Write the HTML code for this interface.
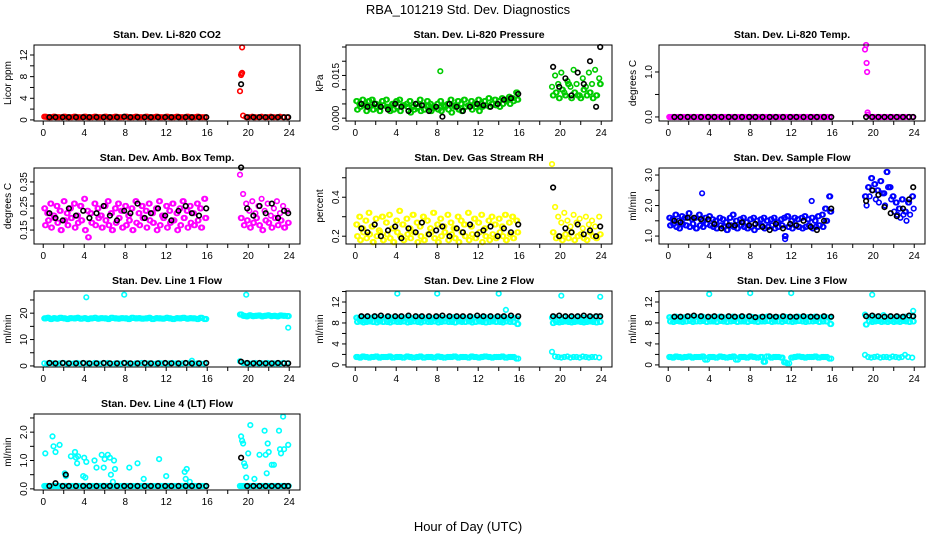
<!DOCTYPE html>
<html><head><meta charset="utf-8"><style>
html,body{margin:0;padding:0;background:#fff}
svg{display:block;font-family:"Liberation Sans",sans-serif}
</style></head><body>
<svg id="c" width="936" height="540" viewBox="0 0 936 540">
<text x="468" y="14" font-size="13" text-anchor="middle">RBA_101219  Std. Dev. Diagnostics</text>
<text x="468" y="531" font-size="13" text-anchor="middle">Hour of Day (UTC)</text>
</svg>
<script>
const H1=[0.1,0.4,0.7,1.0,1.3,1.6,2.0,2.3,2.6,3.0,3.3,3.6,4.0,4.3,4.6,5.0,5.3,5.6,6.0,6.3,6.6,7.0,7.3,7.6,8.0,8.3,8.6,9.0,9.3,9.6,10.0,10.3,10.6,11.0,11.3,11.6,12.0,12.3,12.6,13.0,13.3,13.6,14.0,14.3,14.6,15.0,15.3,15.7];
const H1b=[0.25,0.55,0.85,1.15,1.45,1.8,2.15,2.45,2.8,3.15,3.45,3.8,4.15,4.45,4.8,5.15,5.45,5.8,6.15,6.45,6.8,7.15,7.45,7.8,8.15,8.45,8.8,9.15,9.45,9.8,10.15,10.45,10.8,11.15,11.45,11.8,12.15,12.45,12.8,13.15,13.45,13.8,14.15,14.45,14.8,15.15,15.5,15.9];
const H1c=[0.18,0.48,0.78,1.08,1.38,1.7,2.08,2.38,2.7,3.08,3.38,3.7,4.08,4.38,4.7,5.08,5.38,5.7,6.08,6.38,6.7,7.08,7.38,7.7,8.08,8.38,8.7,9.08,9.38,9.7,10.08,10.38,10.7,11.08,11.38,11.7,12.08,12.38,12.7,13.08,13.38,13.7,14.08,14.38,14.7,15.08,15.4,15.8];
const H2=[19.2,19.5,19.8,20.1,20.4,20.7,21.0,21.3,21.6,21.9,22.2,22.5,22.8,23.1,23.4,23.8];
const H2b=[19.35,19.65,19.95,20.25,20.55,20.85,21.15,21.45,21.75,22.05,22.35,22.65,22.95,23.25,23.6,23.95];
const H2c=[19.28,19.58,19.88,20.18,20.48,20.78,21.08,21.38,21.68,21.98,22.28,22.58,22.88,23.18,23.5,23.88];
const HB1=[0.6,1.2,1.9,2.5,3.2,3.9,4.5,5.2,5.9,6.5,7.2,7.9,8.5,9.2,9.9,10.5,11.2,11.9,12.5,13.2,13.9,14.5,15.2,15.9];
const HB2=[19.3,19.9,20.5,21.1,21.7,22.3,22.9,23.5,23.9];
const xTicks=[0,2,4,6,8,10,12,14,16,18,20,22,24];
const xLabels=["0","","4","","8","","12","","16","","20","","24"];

// panel 1 CO2
const co2Red1=[0.6,0.5,0.5,0.6,0.5,0.5,0.6,0.5,0.5,0.6,0.5,0.5,0.6,0.5,0.5,0.6,0.5,0.5,0.6,0.5,0.5,0.6,0.5,0.5,0.6,0.5,0.5,0.6,0.5,0.5,0.6,0.5,0.5,0.6,0.5,0.5,0.6,0.5,0.5,0.6,0.5,0.5,0.6,0.5,0.5,0.6,0.5,0.5];
const co2Red2=[5.3,0.8,0.5,0.5,0.6,0.5,0.5,0.6,0.5,0.5,0.6,0.5,0.5,0.6,0.5,0.5];
const co2SpikeX=[19.3,19.35,19.4,19.4];
const co2SpikeY=[8.3,8.6,8.7,13.4];
const co2Blk1=[0.5,0.5,0.5,0.5,0.5,0.5,0.5,0.5,0.5,0.5,0.5,0.6,0.5,0.5,0.5,0.5,0.5,0.5,0.5,0.5,0.5,0.5,0.5,0.5];
const co2Blk2=[6.6,0.5,0.5,0.5,0.5,0.5,0.5,0.5,0.5];
// panel 2 pressure
const prGrn1=[0.006,0.005,0.0065,0.0045,0.006,0.0065,0.005,0.0045,0.006,0.0065,0.004,0.005,0.006,0.0065,0.0045,0.005,0.006,0.004,0.005,0.0065,0.0045,0.006,0.005,0.0035,0.005,0.006,0.0045,0.005,0.0065,0.0045,0.006,0.005,0.0065,0.0045,0.006,0.005,0.0065,0.005,0.006,0.007,0.005,0.0065,0.006,0.007,0.0065,0.0075,0.007,0.009];
const prGrn1b=[0.003,0.004,0.0045,0.0025,0.004,0.003,0.004,0.0025,0.0045,0.004,0.0025,0.003,0.004,0.0025,0.0045,0.004,0.002,0.003,0.004,0.0025,0.003,0.0045,0.0025,0.004,0.003,0.0025,0.004,0.003,0.002,0.004,0.003,0.0025,0.004,0.0045,0.003,0.004,0.0025,0.004,0.0045,0.004,0.005,0.0045,0.004,0.005,0.006,0.005,0.006,0.0065];
const prGrn2=[0.011,0.015,0.012,0.016,0.009,0.013,0.011,0.017,0.012,0.008,0.014,0.011,0.016,0.012,0.017,0.014];
const prGrn2b=[0.008,0.009,0.007,0.010,0.008,0.012,0.007,0.009,0.008,0.007,0.010,0.008,0.009,0.007,0.008,0.012];
const prBlk1=[0.005,0.004,0.005,0.004,0.003,0.005,0.004,0.0025,0.005,0.0045,0.0025,0.004,0.0005,0.005,0.004,0.0025,0.004,0.005,0.0045,0.004,0.005,0.0065,0.007,0.0085];
const prBlk2=[0.018,0.011,0.014,0.008,0.016,0.012,0.020,0.004,0.025];
// panel 3 temp
const tpMag1=[0,0,0,0,0,0,0,0,0,0,0,0,0,0,0,0,0,0,0,0,0,0,0,0,0,0,0,0,0,0,0,0,0,0,0,0,0,0,0,0,0,0,0,0,0,0,0,0];
const tpMag2=[1.5,0.05,0,0,0,0,0,0,0,0,0,0,0,0,0,0];
const tpSpikeX=[19.3,19.35,19.4,19.45];
const tpSpikeY=[1.6,1.2,1.0,0.1];
const tpBlk1=[0,0,0,0,0,0,0,0,0,0,0,0,0,0,0,0,0,0,0,0,0,0,0,0];
const tpBlk2=[0,0,0,0,0,0,0,0,0];
// panel 4 amb box
const abMag1=[0.24,0.22,0.26,0.21,0.25,0.23,0.27,0.22,0.24,0.26,0.21,0.25,0.28,0.23,0.22,0.26,0.24,0.21,0.25,0.27,0.22,0.24,0.26,0.23,0.25,0.21,0.24,0.27,0.22,0.25,0.23,0.26,0.22,0.24,0.27,0.21,0.25,0.23,0.26,0.22,0.24,0.27,0.23,0.25,0.22,0.26,0.24,0.28];
const abMag1b=[0.17,0.19,0.16,0.2,0.18,0.15,0.19,0.17,0.2,0.16,0.18,0.19,0.15,0.12,0.18,0.17,0.2,0.16,0.19,0.17,0.15,0.18,0.2,0.16,0.17,0.19,0.15,0.18,0.17,0.2,0.16,0.19,0.18,0.15,0.17,0.2,0.16,0.18,0.19,0.15,0.17,0.2,0.16,0.18,0.17,0.19,0.16,0.2];
const abMag2=[0.38,0.3,0.26,0.23,0.27,0.22,0.25,0.28,0.23,0.26,0.21,0.24,0.27,0.22,0.25,0.23];
const abMag2b=[0.2,0.17,0.19,0.16,0.18,0.2,0.17,0.15,0.19,0.18,0.16,0.2,0.17,0.19,0.16,0.18];
const abBlk1=[0.22,0.2,0.19,0.24,0.21,0.23,0.2,0.22,0.25,0.21,0.19,0.23,0.22,0.26,0.2,0.22,0.24,0.21,0.19,0.23,0.25,0.22,0.21,0.24];
const abBlk2=[0.41,0.24,0.21,0.25,0.22,0.26,0.2,0.23,0.22];
// panel 5 RH
const rhYel1=[0.26,0.3,0.24,0.28,0.32,0.25,0.29,0.23,0.3,0.27,0.31,0.24,0.28,0.33,0.26,0.29,0.24,0.31,0.27,0.25,0.3,0.28,0.24,0.32,0.26,0.29,0.25,0.31,0.27,0.24,0.3,0.28,0.26,0.32,0.25,0.29,0.27,0.31,0.24,0.28,0.3,0.26,0.29,0.25,0.31,0.27,0.3,0.28];
const rhYel1b=[0.2,0.18,0.22,0.19,0.21,0.17,0.2,0.22,0.18,0.21,0.19,0.17,0.22,0.2,0.18,0.21,0.19,0.22,0.17,0.2,0.18,0.21,0.22,0.19,0.17,0.2,0.22,0.18,0.21,0.19,0.17,0.22,0.2,0.18,0.21,0.19,0.22,0.17,0.2,0.18,0.21,0.19,0.22,0.2,0.18,0.21,0.19,0.22];
const rhYel2=[0.57,0.35,0.3,0.27,0.32,0.28,0.25,0.31,0.27,0.29,0.24,0.3,0.26,0.28,0.25,0.3];
const rhYel2b=[0.22,0.19,0.2,0.18,0.21,0.19,0.22,0.18,0.2,0.21,0.19,0.18,0.22,0.2,0.19,0.21];
const rhBlk1=[0.24,0.22,0.26,0.2,0.23,0.25,0.19,0.24,0.22,0.27,0.21,0.23,0.25,0.2,0.24,0.22,0.26,0.21,0.23,0.25,0.2,0.24,0.22,0.26];
const rhBlk2=[0.45,0.2,0.24,0.22,0.26,0.21,0.23,0.2,0.25];
// panel 6 sample flow
const sfBlu1=[1.6,1.55,1.7,1.5,1.65,1.6,1.75,1.55,1.6,1.7,1.5,1.6,1.65,1.55,1.5,1.6,1.55,1.45,1.6,1.7,1.5,1.55,1.6,1.45,1.55,1.6,1.5,1.55,1.6,1.5,1.55,1.6,1.45,1.55,1.6,1.65,1.5,1.6,1.55,1.6,1.65,1.55,1.6,1.5,1.65,1.7,1.9,2.3];
const sfBlu1b=[1.35,1.4,1.3,1.25,1.4,1.35,1.3,1.4,1.25,1.35,1.3,1.4,1.35,1.3,1.25,1.35,1.3,1.2,1.35,1.3,1.25,1.35,1.3,1.25,1.3,1.2,1.3,1.35,1.25,1.3,1.35,1.25,1.3,1.35,1.0,1.3,1.25,1.35,1.3,1.25,1.3,1.35,1.25,1.3,1.35,1.3,1.5,1.8];
const sfBlu2=[2.3,2.6,2.9,2.7,2.5,2.8,2.4,3.1,2.6,2.3,2.1,1.9,2.2,1.8,2.1,2.3];
const sfBlu2b=[2.0,2.3,2.5,2.2,2.1,2.4,2.0,2.6,2.2,1.8,1.7,1.6,1.7,1.5,1.7,1.9];
const sfBlk1=[1.5,1.45,1.6,1.6,1.55,1.55,1.4,1.25,1.35,1.35,1.45,1.35,1.4,1.3,1.2,1.4,1.25,1.4,1.35,1.5,1.3,1.2,1.5,1.9];
const sfBlk2=[2.15,2.5,2.35,1.95,1.75,1.65,1.9,2.2,2.6];
// panel 7 line 1 flow
const l1Cyn1=[18,18.2,17.8,18.1,17.9,18.2,18,17.8,18.1,18,18.2,17.9,18.1,17.8,18,18.2,17.9,18.1,18,17.8,18.2,18,17.9,18.1,18,17.8,18.2,18,18.1,17.9,18,18.2,17.8,18.1,18,17.9,18.2,18,17.8,18.1,18,18.2,17.9,18.1,18,17.8,18.2,17.8];
const l1Cyn1b=[1.0,0.9,1.1,1.0,0.9,1.0,1.1,0.9,1.0,1.0,1.1,0.9,1.0,1.0,0.9,1.1,1.0,0.9,1.0,1.1,0.9,1.0,1.0,0.9,1.1,1.0,0.9,1.0,1.0,1.1,0.9,1.0,1.0,0.9,1.1,1.0,0.9,1.0,1.1,1.0,0.9,1.0,1.0,1.1,0.9,1.0,1.0,0.9];
const l1Cyn2=[19.5,19,18.8,19.2,18.9,19,19.1,18.8,19,19.2,18.9,19,18.8,19.1,19,18.9];
const l1Cyn2b=[1.8,1.1,1.0,0.9,1.0,1.1,0.9,1.0,1.0,1.1,0.9,1.0,1.0,0.9,1.1,1.0];
const l1OutX=[4.2,7.9,14.5,19.8,23.9];
const l1OutY=[26,27,2,27,14.5];
const l1Blk1=[1.1,1.0,1.1,1.0,1.0,1.1,1.0,1.0,1.1,1.0,1.0,1.1,1.0,1.0,1.1,1.0,1.0,1.1,1.0,1.0,1.1,1.0,1.0,1.1];
const l1Blk2=[1.6,1.1,1.0,1.1,1.0,1.0,1.1,1.0,1.0];
// panel 8 line 2 flow
const l2Cyn1=[9.0,8.9,9.1,9.0,8.9,9.0,9.1,8.9,9.0,9.0,9.1,8.9,9.0,9.0,8.9,9.1,9.0,8.9,9.0,9.1,8.9,9.0,9.0,8.9,9.1,9.0,8.9,9.0,9.0,9.1,8.9,9.0,9.0,8.9,9.1,9.0,8.9,9.0,9.1,9.0,8.9,9.0,9.0,9.1,8.9,9.0,9.0,8.9];
const l2Cyn1b=[8.2,8.3,8.1,8.2,8.3,8.2,8.1,8.3,8.2,8.2,8.1,8.3,8.2,8.2,8.3,8.1,8.2,8.3,8.2,8.1,8.3,8.2,8.2,8.3,8.1,8.2,8.3,8.2,8.2,8.1,8.3,8.2,8.2,8.3,8.1,8.2,8.3,8.2,8.1,8.2,8.3,8.2,8.2,8.1,8.3,8.2,8.2,7.8];
const l2Cyn1c=[1.5,1.4,1.6,1.5,1.4,1.5,1.6,1.4,1.5,1.5,1.6,1.4,1.5,1.5,1.4,1.6,1.5,1.4,1.5,1.6,1.4,1.5,1.5,1.4,1.6,1.5,1.4,1.5,1.5,1.6,1.4,1.5,1.5,1.4,1.6,1.5,1.4,1.5,1.6,1.5,1.4,1.5,1.5,1.6,1.4,1.5,1.5,1.2];
const l2Cyn2=[9.0,9.1,8.9,9.0,9.1,8.9,9.0,9.0,9.1,8.9,9.0,9.0,8.9,9.1,9.0,9.0];
const l2Cyn2b=[8.0,8.2,8.1,8.2,8.3,8.2,8.1,8.2,8.3,8.2,8.1,8.2,8.3,8.2,8.1,8.2];
const l2Cyn2c=[2.5,1.6,1.5,1.4,1.5,1.6,1.4,1.5,1.5,1.4,1.6,1.5,1.4,1.5,1.5,1.4];
const l2OutX=[4.1,8.0,14.0,14.7,20.1,23.9];
const l2OutY=[13.6,13.6,13.6,10.5,13.2,13.0];
const l2Blk1=[9.3,9.3,9.3,9.4,9.3,9.3,9.3,9.4,9.3,9.3,9.3,9.3,9.4,9.3,9.3,9.3,9.3,9.4,9.3,9.3,9.3,9.3,9.4,9.3];
const l2Blk2=[9.3,9.4,9.3,9.3,9.3,9.4,9.3,9.3,9.3];
// panel 9 line 3 flow
const l3Cyn1=[9.1,9.0,9.2,9.1,9.0,9.1,9.2,9.0,9.1,9.1,9.2,9.0,9.1,9.1,9.0,9.2,9.1,9.0,9.1,9.2,9.0,9.1,9.1,9.0,9.2,9.1,9.0,9.1,9.1,9.2,9.0,9.1,9.1,9.0,9.2,9.1,9.0,9.1,9.2,9.1,9.0,9.1,9.1,9.2,9.0,9.1,9.1,9.0];
const l3Cyn1b=[8.3,8.2,8.4,8.3,8.2,8.3,8.4,8.2,8.3,8.3,8.4,8.2,8.3,8.3,8.2,8.4,8.3,8.2,8.3,8.4,8.2,8.3,8.3,8.2,8.4,8.3,8.2,8.3,8.3,8.4,8.2,8.3,8.3,8.2,8.4,8.3,8.2,8.3,8.4,8.3,8.2,8.3,8.3,8.4,8.2,8.3,8.3,7.8];
const l3Cyn1c=[1.5,1.4,1.6,1.5,1.4,1.5,1.6,1.4,1.5,1.5,1.6,1.0,1.5,1.5,1.4,1.6,1.5,1.4,1.5,1.6,1.0,1.5,1.5,1.4,1.6,1.5,1.4,1.5,0.6,1.6,1.4,1.5,1.5,1.4,0.5,0.3,1.4,1.5,1.6,1.5,1.4,1.5,1.5,1.6,1.4,1.5,1.5,1.2];
const l3Cyn2=[9.6,9.1,9.0,9.2,9.1,9.0,9.5,9.1,9.2,9.0,9.1,9.1,9.0,9.2,9.1,9.3];
const l3Cyn2b=[7.7,8.3,8.2,8.3,8.4,8.2,8.3,8.2,8.4,8.2,8.3,8.2,8.4,8.3,8.2,8.3];
const l3Cyn2c=[1.9,1.5,1.4,1.5,1.6,1.4,1.5,1.5,1.4,1.6,1.5,1.4,1.5,1.9,1.5,1.4];
const l3OutX=[4.0,8.0,12.0,19.9,23.9];
const l3OutY=[13.5,13.7,13.7,13.4,10.3];
const l3Blk1=[9.2,9.2,9.3,9.4,9.3,9.2,9.3,9.2,9.3,9.2,9.3,9.3,9.1,9.2,9.3,9.2,9.3,9.2,9.2,9.3,9.2,9.2,9.3,9.2];
const l3Blk2=[9.3,9.4,9.3,9.2,9.3,9.3,9.2,9.4,9.3];
// panel 10 line 4 flow
const l4Cyn1=[0.1,0.1,0.1,0.1,0.1,0.1,0.1,0.1,0.1,0.1,0.1,0.1,0.1,0.1,0.1,0.1,0.1,0.1,0.1,0.1,0.1,0.1,0.1,0.1,0.1,0.1,0.1,0.1,0.1,0.1,0.1,0.1,0.1,0.1,0.1,0.1,0.1,0.1,0.1,0.1,0.1,0.1,0.1,0.1,0.1,0.1,0.1,0.1];
const l4Cyn2=[0.1,0.1,0.1,0.1,0.1,0.1,0.1,0.1,0.1,0.1,0.1,0.1,0.1,0.1,0.1,0.1];
const l4OutX=[0.2,0.9,1.0,1.2,1.6,2.1,2.2,2.7,3.1,3.2,3.3,3.4,3.9,4.0,4.1,4.2,5.0,5.2,5.7,5.9,6.0,6.3,6.5,6.6,6.8,6.9,7.0,8.4,9.2,9.8,11.3,12.0,13.8,13.9,14.0,14.3,19.2,19.3,19.4,19.5,19.6,19.7,19.8,20.0,20.2,20.6,21.1,21.6,21.7,21.8,21.9,22.0,22.3,22.5,23.0,23.1,23.2,23.4,23.5,23.9];
const l4OutY=[1.25,1.85,1.5,1.3,1.55,0.55,0.45,1.15,1.3,1.1,0.9,1.15,0.45,1.1,0.4,0.95,1.0,0.75,1.2,0.75,1.05,1.2,1.1,0.5,0.25,1.0,0.7,0.75,0.9,0.35,1.05,0.45,0.6,0.35,0.7,0.25,0.1,1.85,1.7,1.6,0.9,0.8,0.4,1.25,2.25,0.35,1.2,2.05,1.2,0.55,1.6,1.3,0.85,0.85,2.05,1.4,1.25,2.55,1.4,1.55];
const l4Blk1=[0.1,0.2,0.1,0.1,0.1,0.1,0.1,0.1,0.1,0.1,0.1,0.1,0.1,0.1,0.1,0.1,0.1,0.1,0.1,0.1,0.1,0.1,0.1,0.1];
const l4Blk2=[1.1,0.1,0.1,0.1,0.1,0.1,0.1,0.1,0.1];
const l4BlkX=[2.2];
const l4BlkY=[0.5];

const panels=[
 {name:"co2",title:"Stan. Dev. Li-820 CO2",ylab:"Licor ppm",col:0,row:0,ymin:-0.2,ymax:13.85,yt:[0,2,4,6,8,10,12],yl:["0","","4","","8","","12"],
  s:[[H1,co2Red1,"#f00"],[H1b,co2Red1,"#f00"],[H2,co2Red2,"#f00"],[co2SpikeX,co2SpikeY,"#f00"],[HB1,co2Blk1,"#000"],[HB2,co2Blk2,"#000"]]},
 {name:"pressure",title:"Stan. Dev. Li-820 Pressure",ylab:"kPa",col:1,row:0,ymin:-0.001,ymax:0.0257,yt:[0,0.005,0.01,0.015,0.02,0.025],yl:["0.000","","","0.015","",""],
  s:[[H1,prGrn1,"#0c0"],[H1b,prGrn1b,"#0c0"],[H1c,prGrn1,"#0c0"],[H1c,prGrn1b,"#0c0"],[[8.3],[0.0165],"#0c0"],[H2,prGrn2,"#0c0"],[H2b,prGrn2b,"#0c0"],[H2c,prGrn2b,"#0c0"],[HB1,prBlk1,"#000"],[HB2,prBlk2,"#000"]]},
 {name:"temp",title:"Stan. Dev. Li-820 Temp.",ylab:"degrees C",col:2,row:0,ymin:-0.09,ymax:1.6,yt:[0,0.5,1.0],yl:["0.0","","1.0"],
  s:[[H1,tpMag1,"#f0f"],[H1b,tpMag1,"#f0f"],[H2,tpMag2,"#f0f"],[tpSpikeX,tpSpikeY,"#f0f"],[HB1,tpBlk1,"#000"],[HB2,tpBlk2,"#000"]]},
 {name:"amb-box",title:"Stan. Dev. Amb. Box Temp.",ylab:"degrees C",col:0,row:1,ymin:0.092,ymax:0.408,yt:[0.15,0.2,0.25,0.3,0.35],yl:["0.15","","0.25","","0.35"],
  s:[[H1,abMag1,"#f0f"],[H1b,abMag1b,"#f0f"],[H1c,abMag1,"#f0f"],[H1c,abMag1b,"#f0f"],[H2,abMag2,"#f0f"],[H2b,abMag2b,"#f0f"],[H2c,abMag2b,"#f0f"],[HB1,abBlk1,"#000"],[HB2,abBlk2,"#000"]]},
 {name:"rh",title:"Stan. Dev. Gas Stream RH",ylab:"percent",col:1,row:1,ymin:0.16,ymax:0.55,yt:[0.2,0.3,0.4,0.5],yl:["0.2","","0.4",""],
  s:[[H1,rhYel1,"#ff0"],[H1b,rhYel1b,"#ff0"],[H1c,rhYel1,"#ff0"],[H1c,rhYel1b,"#ff0"],[H2,rhYel2,"#ff0"],[H2b,rhYel2b,"#ff0"],[H2c,rhYel2b,"#ff0"],[HB1,rhBlk1,"#000"],[HB2,rhBlk2,"#000"]]},
 {name:"sample-flow",title:"Stan. Dev. Sample Flow",ylab:"ml/min",col:2,row:1,ymin:0.74,ymax:3.23,yt:[1,1.5,2,2.5,3],yl:["1.0","","2.0","","3.0"],
  s:[[H1,sfBlu1,"#00f"],[H1b,sfBlu1b,"#00f"],[H1c,sfBlu1,"#00f"],[H1c,sfBlu1b,"#00f"],[H2,sfBlu2,"#00f"],[H2b,sfBlu2b,"#00f"],[H2c,sfBlu2,"#00f"],[[3.3,11.4,14.0],[2.4,0.9,2.15],"#00f"],[HB1,sfBlk1,"#000"],[HB2,sfBlk2,"#000"]]},
 {name:"line1",title:"Stan. Dev. Line 1 Flow",ylab:"ml/min",col:0,row:2,ymin:-0.4,ymax:28.4,yt:[0,5,10,15,20,25],yl:["0","","10","","20",""],
  s:[[H1,l1Cyn1,"#0ff"],[H1b,l1Cyn1,"#0ff"],[H1c,l1Cyn1,"#0ff"],[H1,l1Cyn1b,"#0ff"],[H2,l1Cyn2,"#0ff"],[H2b,l1Cyn2,"#0ff"],[H2c,l1Cyn2,"#0ff"],[H2,l1Cyn2b,"#0ff"],[l1OutX,l1OutY,"#0ff"],[HB1,l1Blk1,"#000"],[HB2,l1Blk2,"#000"]]},
 {name:"line2",title:"Stan. Dev. Line 2 Flow",ylab:"ml/min",col:1,row:2,ymin:-0.4,ymax:14.1,yt:[0,2,4,6,8,10,12,14],yl:["0","","4","","8","","12",""],
  s:[[H1,l2Cyn1,"#0ff"],[H1b,l2Cyn1b,"#0ff"],[H1c,l2Cyn1,"#0ff"],[H1c,l2Cyn1b,"#0ff"],[H1,l2Cyn1c,"#0ff"],[H1b,l2Cyn1c,"#0ff"],[H2,l2Cyn2,"#0ff"],[H2b,l2Cyn2b,"#0ff"],[H2c,l2Cyn2b,"#0ff"],[H2,l2Cyn2c,"#0ff"],[l2OutX,l2OutY,"#0ff"],[HB1,l2Blk1,"#000"],[HB2,l2Blk2,"#000"]]},
 {name:"line3",title:"Stan. Dev. Line 3 Flow",ylab:"ml/min",col:2,row:2,ymin:-0.4,ymax:14.1,yt:[0,2,4,6,8,10,12,14],yl:["0","","4","","8","","12",""],
  s:[[H1,l3Cyn1,"#0ff"],[H1b,l3Cyn1b,"#0ff"],[H1c,l3Cyn1,"#0ff"],[H1c,l3Cyn1b,"#0ff"],[H1,l3Cyn1c,"#0ff"],[H1b,l3Cyn1c,"#0ff"],[H2,l3Cyn2,"#0ff"],[H2b,l3Cyn2b,"#0ff"],[H2c,l3Cyn2b,"#0ff"],[H2,l3Cyn2c,"#0ff"],[l3OutX,l3OutY,"#0ff"],[HB1,l3Blk1,"#000"],[HB2,l3Blk2,"#000"]]},
 {name:"line4",title:"Stan. Dev. Line 4 (LT) Flow",ylab:"ml/min",col:0,row:3,ymin:-0.04,ymax:2.64,yt:[0,0.5,1,1.5,2,2.5],yl:["0.0","","1.0","","2.0",""],
  s:[[H1,l4Cyn1,"#0ff"],[H1b,l4Cyn1,"#0ff"],[H2,l4Cyn2,"#0ff"],[H2b,l4Cyn2,"#0ff"],[l4OutX,l4OutY,"#0ff"],[HB1,l4Blk1,"#000"],[HB2,l4Blk2,"#000"],[l4BlkX,l4BlkY,"#000"]]}
];

const svg=document.getElementById('c');
const NS="http://www.w3.org/2000/svg";
const colX=[34,346,659], rowY=[45,168,291,414], W=266, Hh=76;
function mk(tag,attrs,parent){const e=document.createElementNS(NS,tag);for(const k in attrs)e.setAttribute(k,attrs[k]);parent.appendChild(e);return e;}
panels.forEach(p=>{
  const x0=colX[p.col], y0=rowY[p.row];
  const sx=v=>x0+(v+0.9)/(25.95)*W;
  const sy=v=>y0+Hh-(v-p.ymin)/(p.ymax-p.ymin)*Hh;
  const g=mk('g',{},svg);
  
  
  const t=mk('text',{x:x0+W/2,y:y0-7,'font-size':10.5,'font-weight':'bold','text-anchor':'middle'},g);
  t.textContent=p.title;
  
  
  const yt=mk('text',{x:0,y:0,'font-size':10,'text-anchor':'middle',transform:`translate(${x0-23},${y0+Hh/2}) rotate(-90)`},g);
  yt.textContent=p.ylab;
  
  
  const pg=mk('g',{fill:'none','stroke-width':1.6},g);
  
  
  p.s.forEach(s=>{
    const xs=s[0], ys=s[1];
    for(let i=0;i<xs.length&&i<ys.length;i++){
      const c=mk('circle',{cx:sx(xs[i]).toFixed(1),cy:sy(ys[i]).toFixed(1),r:2.3,stroke:s[2]},pg);
      
      
    }
  });
  const box=mk('rect',{x:x0,y:y0,width:W,height:Hh,fill:'none',stroke:'#000','stroke-width':1},g);
  
  
  const xa=mk('g',{},g);
  
  
  xTicks.forEach((v,i)=>{
    const px=sx(v);
    mk('line',{x1:px,x2:px,y1:y0+Hh,y2:y0+Hh+4,stroke:'#000'},xa);
    if(xLabels[i]){const tt=mk('text',{x:px,y:y0+Hh+15,'font-size':10,'text-anchor':'middle'},xa);tt.textContent=xLabels[i];}
  });
  const ya=mk('g',{},g);
  
  
  p.yt.forEach((v,i)=>{
    const py=sy(v);
    mk('line',{x1:x0,x2:x0-4,y1:py,y2:py,stroke:'#000'},ya);
    if(p.yl[i]){const tt=mk('text',{x:0,y:0,'font-size':10,'text-anchor':'middle',transform:`translate(${x0-7},${py}) rotate(-90)`},ya);tt.textContent=p.yl[i];}
  });
});
</script>
</body></html>
